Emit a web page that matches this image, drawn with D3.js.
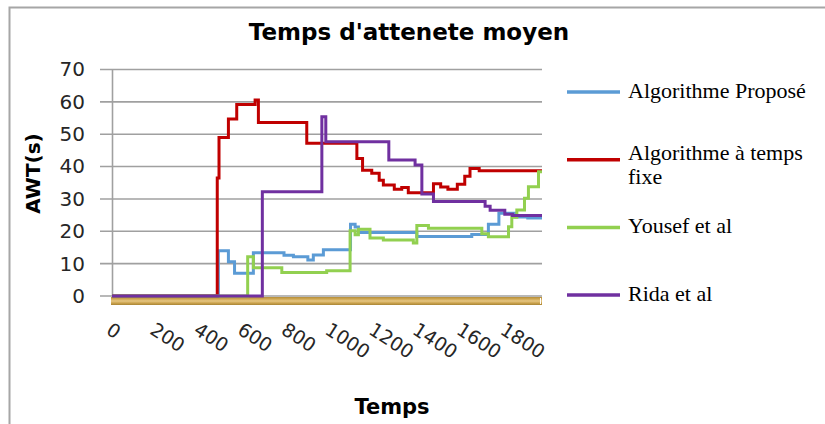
<!DOCTYPE html>
<html>
<head>
<meta charset="utf-8">
<script src="https://cdn.jsdelivr.net/npm/d3@7"></script>
<style>
  html, body { margin: 0; padding: 0; background: #ffffff; }
  svg { display: block; }
</style>
</head>
<body>
<div id="chart"></div>
<script>
// Average waiting time (AWT) over simulation time, four algorithms.
// Each series is a step function: [time, AWT(s)] holds until the next point.
const chartTitle = "Temps d'attenete moyen";
const xTitle = "Temps";
const yTitle = "AWT(s)";

const xTicks = [0, 200, 400, 600, 800, 1000, 1200, 1400, 1600, 1800];
const yTicks = [0, 10, 20, 30, 40, 50, 60, 70];
const tMax = 1965;

const seriesNames = ["Algorithme Proposé", "Algorithme à temps fixe", "Yousef et al", "Rida et al"];
const legendLines = [["Algorithme Proposé"], ["Algorithme à temps", "fixe"], ["Yousef et al"], ["Rida et al"]];
const seriesColors = ["#5b9bd5", "#c00000", "#92d050", "#7030a0"];

const seriesPropose = [
  [0, 0], [486, 14], [532, 10.6], [560, 7.0], [646, 13.4], [786, 12.6], [829, 12.1],
  [895, 11.1], [920, 12.7], [966, 14.3], [1090, 22.2], [1111, 21.3], [1126, 19.6],
  [1393, 18.4], [1644, 19.0], [1720, 22.2], [1768, 25.6], [1845, 24.4], [1900, 24.1]
];
const seriesFixe = [
  [0, 0], [481, 36.5], [489, 49], [532, 54.7], [570, 59.2], [654, 60.6], [669, 53.6],
  [890, 47.2], [1119, 42.5], [1145, 38.9], [1187, 37.9], [1221, 35.8], [1240, 34.3],
  [1290, 33.0], [1324, 33.5], [1354, 31.9], [1469, 34.7], [1502, 33.7], [1535, 33.0],
  [1578, 34.5], [1612, 37.0], [1636, 39.4], [1678, 38.7]
];
const seriesYousef = [
  [0, 0], [620, 12.1], [646, 8.7], [776, 7.3], [981, 7.8], [1088, 20.2], [1111, 18.9],
  [1126, 20.6], [1179, 17.9], [1240, 17.3], [1377, 16.4], [1393, 21.8], [1446, 20.9],
  [1690, 19.2], [1720, 18.3], [1812, 21.4], [1827, 24.3], [1850, 26.6], [1885, 30.2],
  [1903, 33.8], [1949, 38.4]
];
const seriesRida = [
  [0, 0], [687, 32.2], [959, 55.4], [977, 47.7], [1265, 42.0], [1385, 40.5],
  [1416, 31.5], [1469, 29.2], [1705, 27.7], [1728, 26.5], [1795, 25.3], [1830, 24.9]
];
const allSeries = [seriesPropose, seriesFixe, seriesYousef, seriesRida];

const W = 825, H = 424;
const svg = d3.select("#chart").append("svg").attr("width", W).attr("height", H);

// chart frame
svg.append("rect")
  .attr("x", 9.5).attr("y", 7.5).attr("width", W + 20).attr("height", H + 20)
  .attr("fill", "#ffffff").attr("stroke", "#a6a6a6").attr("stroke-width", 2);

const x = d3.scaleLinear().domain([0, tMax]).range([112, 542]);
const y = d3.scaleLinear().domain([0, 70]).range([296, 69.5]);

// horizontal gridlines (they also form the tick marks on the left)
svg.append("g").selectAll("line").data(yTicks).join("line")
  .attr("x1", 100).attr("x2", x(tMax))
  .attr("y1", d => y(d)).attr("y2", d => y(d))
  .attr("stroke", "#a0a0a0").attr("stroke-width", 1.6);

// value axis
const yAxis = d3.axisLeft(y).tickValues(yTicks).tickSizeInner(0).tickSizeOuter(0).tickPadding(27);
const gy = svg.append("g").attr("transform", "translate(112,0)").call(yAxis);
gy.select(".domain").attr("stroke", "#a0a0a0").attr("stroke-width", 1.6);
gy.selectAll("text")
  .attr("font-family", "DejaVu Sans, sans-serif").attr("font-size", 20)
  .attr("fill", "#262626");

// category axis band
const defs = svg.append("defs");
const grad = defs.append("linearGradient").attr("id", "axisBand")
  .attr("x1", 0).attr("y1", 0).attr("x2", 0).attr("y2", 1);
[["0%", "#b48e3a"], ["25%", "#cfa752"], ["50%", "#e6c683"], ["75%", "#cca44e"], ["100%", "#a98535"]]
  .forEach(([o, c]) => grad.append("stop").attr("offset", o).attr("stop-color", c));
svg.append("rect")
  .attr("x", x(0) - 1).attr("y", 297).attr("width", x(tMax) - x(0) + 1).attr("height", 8)
  .attr("fill", "url(#axisBand)");
svg.append("line")
  .attr("x1", x(tMax) - 1.5).attr("x2", x(tMax) - 1.5).attr("y1", 298).attr("y2", 304)
  .attr("stroke", "#ffffff").attr("stroke-width", 1);

// rotated time labels
svg.append("g").selectAll("text").data(xTicks).join("text")
  .attr("transform", d => `translate(${x(d) - 7},333) rotate(33)`)
  .attr("font-family", "DejaVu Sans, sans-serif").attr("font-size", 19)
  .attr("fill", "#262626")
  .text(d => d);

// series
const line = d3.line()
  .x(d => x(d[0])).y(d => y(d[1]))
  .curve(d3.curveStepAfter);
allSeries.forEach((s, i) => {
  const pts = s.concat([[tMax, s[s.length - 1][1]]]);
  svg.append("path")
    .datum(pts)
    .attr("d", line)
    .attr("fill", "none")
    .attr("stroke", seriesColors[i])
    .attr("stroke-width", 3)
    .attr("stroke-linejoin", "miter");
});

// titles
svg.append("text")
  .attr("x", 409).attr("y", 39.5).attr("text-anchor", "middle")
  .attr("font-family", "DejaVu Sans, sans-serif").attr("font-weight", "bold")
  .attr("font-size", 23).attr("fill", "#000")
  .text(chartTitle);
svg.append("text")
  .attr("x", 392).attr("y", 413.5).attr("text-anchor", "middle")
  .attr("font-family", "DejaVu Sans, sans-serif").attr("font-weight", "bold")
  .attr("font-size", 21).attr("fill", "#000")
  .text(xTitle);
svg.append("text")
  .attr("transform", "translate(40,173.5) rotate(-90)").attr("text-anchor", "middle")
  .attr("font-family", "DejaVu Sans, sans-serif").attr("font-weight", "bold")
  .attr("font-size", 20).attr("fill", "#000")
  .text(yTitle);

// legend
const legend = svg.append("g");
seriesNames.forEach((name, i) => {
  const ly = 92 + i * 67.7;
  legend.append("line")
    .attr("x1", 567).attr("x2", 620).attr("y1", ly).attr("y2", ly)
    .attr("stroke", seriesColors[i]).attr("stroke-width", 3.5);
  const rows = legendLines[i];
  const t = legend.append("text")
    .attr("font-family", "Liberation Serif, Times New Roman, serif")
    .attr("font-size", 22).attr("fill", "#000");
  rows.forEach((r, k) => {
    t.append("tspan")
      .attr("x", 628)
      .attr("y", ly + 6 - (rows.length - 1) * 5.5 + k * 24)
      .text(r);
  });
});
</script>
</body>
</html>
